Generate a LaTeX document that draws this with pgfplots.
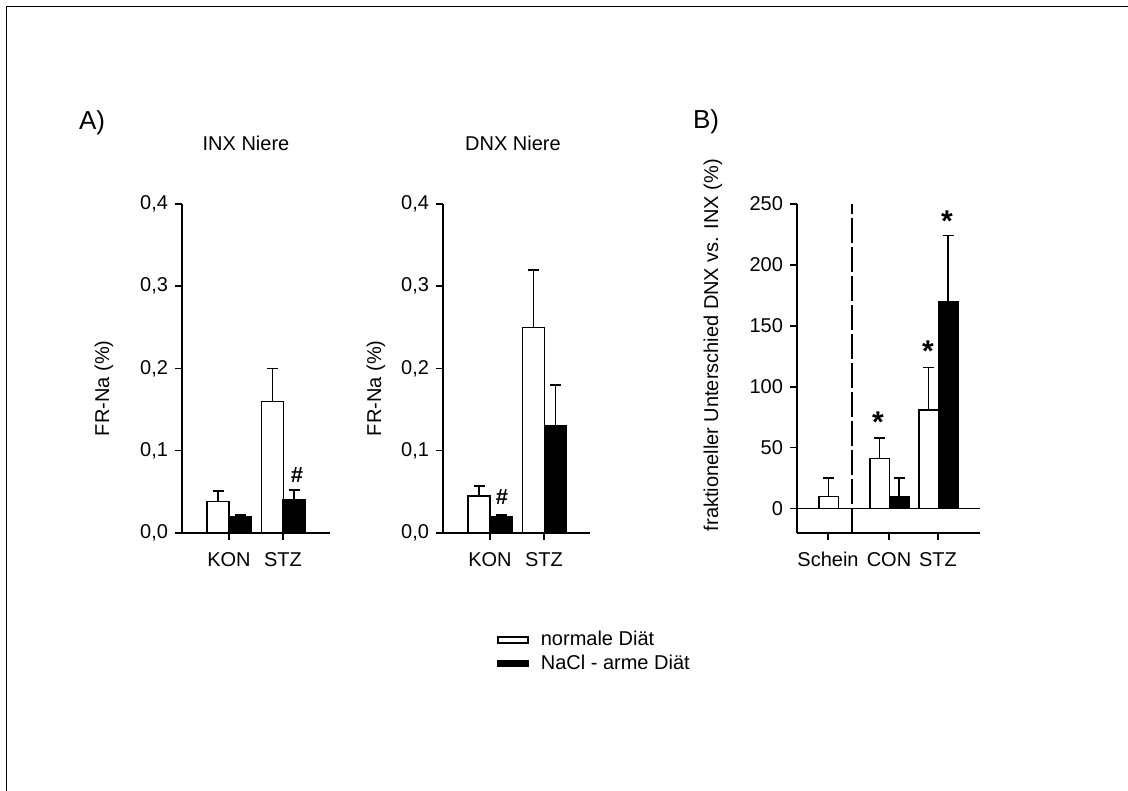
\documentclass[border=0pt]{standalone}
\usepackage{pgfplots}
\pgfplotsset{compat=1.18}
\usepackage{fontspec}
\setmainfont{Liberation Sans}

\pgfplotsset{
  panel/.style={
    scale only axis,
    axis x line*=bottom, axis y line*=left,
    every outer x axis line/.append style={-},
    every outer y axis line/.append style={-},
    axis line style={-, line width=0.75pt},
    tick align=outside, major tick length=3.5pt,
    tick style={line width=0.75pt, black},
    tick label style={font=\fontsize{10}{12}\selectfont},
    xticklabel style={yshift=-2.5pt},
    label style={font=\fontsize{10}{12}\selectfont},
    /pgf/number format/assume math mode=true,
    clip=false,
  },
  wbar/.style={ybar, bar shift=0pt, fill=white, draw=black, line width=0.75pt,
    error bars/y dir=plus, error bars/y explicit,
    error bars/error bar style={line width=0.75pt, black},
    error bars/error mark options={rotate=90, mark size=2.75pt, line width=0.75pt, black}},
  bbar/.style={wbar, fill=black},
}

\begin{document}
\begin{tikzpicture}
\useasboundingbox (0,0) rectangle (564pt,395.5pt);
\draw[line width=0.75pt] (3.25pt,0pt) -- (3.25pt,392.25pt) -- (564pt,392.25pt);

\node[font=\fontsize{13}{15}\selectfont] at (46pt,334pt) {A)};
\node[font=\fontsize{10}{12}\selectfont] at (123pt,324pt) {INX Niere};
\node[font=\fontsize{10}{12}\selectfont] at (256.5pt,324pt) {DNX Niere};
\node[font=\fontsize{13}{15}\selectfont] at (353pt,334.5pt) {B)};

% A) INX Niere
\begin{axis}[panel, at={(91pt,129pt)}, anchor=south west,
  width=74pt, height=164.5pt,
  xmin=18.2, xmax=33.0, ymin=0, ymax=0.4,
  xtick={22.9,28.3}, xticklabels={KON,STZ},
  ytick={0,0.1,0.2,0.3,0.4},
  yticklabel style={/pgf/number format/.cd, fixed, fixed zerofill, precision=1, use comma},
  ylabel={FR-Na (\%)},
  ylabel style={at={(axis description cs:-0.527,0.44)}, anchor=center}]
\addplot[wbar, bar width=2.2] coordinates {(21.8,0.038) +- (0,0.013) (27.25,0.16) +- (0,0.04)};
\addplot[bbar, bar width=2.2] coordinates {(24.0,0.020) +- (0,0.002) (29.4,0.041) +- (0,0.011)};
\node[font=\fontsize{11}{12}\selectfont\bfseries] at (axis cs:29.7,0.0705) {\#};
\end{axis}

% A) DNX Niere
\begin{axis}[panel, at={(221.5pt,129pt)}, anchor=south west,
  width=73.5pt, height=164.5pt,
  xmin=44.3, xmax=59.0, ymin=0, ymax=0.4,
  xtick={49.0,54.4}, xticklabels={KON,STZ},
  ytick={0,0.1,0.2,0.3,0.4},
  yticklabel style={/pgf/number format/.cd, fixed, fixed zerofill, precision=1, use comma},
  ylabel={FR-Na (\%)},
  ylabel style={at={(axis description cs:-0.456,0.44)}, anchor=center},
  legend image code/.code={\draw[#1] (0pt,-1.5pt) rectangle (15pt,1.5pt);},
  legend style={at={(axis description cs:0.367,-0.292)}, anchor=north west,
    draw=none, fill=none, inner sep=0pt, nodes={inner sep=1pt},
    column sep=5pt, row sep=1pt, cells={anchor=west},
    font=\fontsize{10}{12}\selectfont}]
\addplot[wbar, bar width=2.2] coordinates {(47.9,0.045) +- (0,0.012) (53.35,0.25) +- (0,0.07)};
\addlegendentry{normale Diät}
\addplot[bbar, bar width=2.2] coordinates {(50.1,0.020) +- (0,0.002) (55.55,0.13) +- (0,0.05)};
\addlegendentry{NaCl - arme Diät}
\node[font=\fontsize{11}{12}\selectfont\bfseries] at (axis cs:50.2,0.0438) {\#};
\end{axis}

% B)
\begin{axis}[panel, at={(398.5pt,129pt)}, anchor=south west,
  width=91.5pt, height=164.5pt,
  xmin=79.7, xmax=98.0, ymin=-20, ymax=250,
  xtick={82.8,88.9,93.8}, xticklabels={Schein,CON,STZ},
  ytick={0,50,100,150,200,250},
  ylabel={fraktioneller Unterschied DNX vs. INX (\%)},
  ylabel style={at={(axis description cs:-0.459,0.571)}, anchor=center}]
\addplot[black, no marks, line width=0.75pt, forget plot] coordinates {(79.7,0) (98,0)};
\addplot[black, no marks, line width=0.75pt, dash pattern=on 12.5pt off 2pt, forget plot] coordinates {(85.2,-20) (85.2,250)};
\addplot[wbar, bar width=1.95] coordinates {(82.85,10) +- (0,15) (87.95,41) +- (0,17) (92.85,81) +- (0,35)};
\addplot[bbar, bar width=1.95] coordinates {(89.9,10) +- (0,15) (94.8,170) +- (0,54)};
\node[font=\fontsize{15}{15}\selectfont\bfseries] at (axis cs:87.8,71) {*};
\node[font=\fontsize{15}{15}\selectfont\bfseries] at (axis cs:92.8,129) {*};
\node[font=\fontsize{15}{15}\selectfont\bfseries] at (axis cs:94.7,236) {*};
\end{axis}
\end{tikzpicture}
\end{document}
